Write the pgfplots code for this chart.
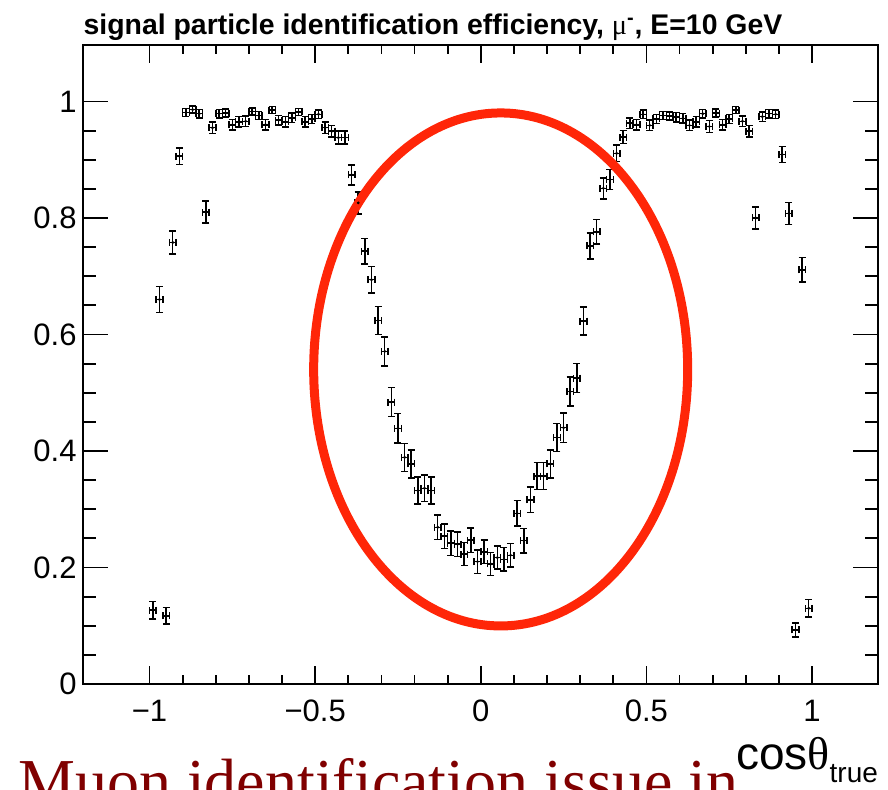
\documentclass[border=0pt]{standalone}
\usepackage{fontspec}
\setmainfont{Liberation Sans}
\newfontfamily\symfont{Liberation Serif}
\usepackage{pgfplots}
\usepackage{pgfplotstable}
\pgfplotsset{compat=1.18}
\definecolor{ringred}{RGB}{255,38,8}
\definecolor{slidered}{RGB}{128,0,0}

% efficiency per cos(theta) bin: centre, value, half bin width, stat. error
\pgfplotstableread{
x y ex ey
-0.99 0.127 0.01 0.015
-0.97 0.660 0.01 0.022
-0.95 0.117 0.01 0.014
-0.93 0.758 0.01 0.020
-0.91 0.906 0.01 0.014
-0.89 0.981 0.01 0.007
-0.87 0.986 0.01 0.006
-0.85 0.979 0.01 0.007
-0.83 0.810 0.01 0.019
-0.81 0.955 0.01 0.010
-0.79 0.979 0.01 0.007
-0.77 0.980 0.01 0.007
-0.75 0.960 0.01 0.009
-0.73 0.965 0.01 0.009
-0.71 0.966 0.01 0.009
-0.69 0.983 0.01 0.006
-0.67 0.976 0.01 0.007
-0.65 0.960 0.01 0.009
-0.63 0.985 0.01 0.006
-0.61 0.968 0.01 0.008
-0.59 0.965 0.01 0.009
-0.57 0.972 0.01 0.008
-0.55 0.982 0.01 0.006
-0.53 0.965 0.01 0.009
-0.51 0.970 0.01 0.008
-0.49 0.978 0.01 0.007
-0.47 0.955 0.01 0.010
-0.45 0.949 0.01 0.010
-0.43 0.938 0.01 0.011
-0.41 0.938 0.01 0.011
-0.39 0.874 0.01 0.017
-0.37 0.826 0.01 0.019
-0.35 0.743 0.01 0.022
-0.33 0.694 0.01 0.023
-0.31 0.624 0.01 0.024
-0.29 0.571 0.01 0.025
-0.27 0.484 0.01 0.025
-0.25 0.439 0.01 0.025
-0.23 0.389 0.01 0.024
-0.21 0.378 0.01 0.024
-0.19 0.332 0.01 0.023
-0.17 0.336 0.01 0.023
-0.15 0.332 0.01 0.023
-0.13 0.269 0.01 0.021
-0.11 0.254 0.01 0.021
-0.09 0.242 0.01 0.021
-0.07 0.240 0.01 0.021
-0.05 0.223 0.01 0.020
-0.03 0.247 0.01 0.021
-0.01 0.210 0.01 0.020
0.01 0.227 0.01 0.020
0.03 0.206 0.01 0.020
0.05 0.217 0.01 0.020
0.07 0.214 0.01 0.020
0.09 0.221 0.01 0.020
0.11 0.293 0.01 0.022
0.13 0.246 0.01 0.021
0.15 0.316 0.01 0.022
0.17 0.357 0.01 0.023
0.19 0.357 0.01 0.023
0.21 0.378 0.01 0.024
0.23 0.423 0.01 0.024
0.25 0.440 0.01 0.025
0.27 0.502 0.01 0.025
0.29 0.525 0.01 0.025
0.31 0.623 0.01 0.024
0.33 0.752 0.01 0.022
0.35 0.776 0.01 0.021
0.37 0.851 0.01 0.018
0.39 0.866 0.01 0.017
0.41 0.911 0.01 0.014
0.43 0.939 0.01 0.011
0.45 0.963 0.01 0.009
0.47 0.960 0.01 0.009
0.49 0.978 0.01 0.007
0.51 0.959 0.01 0.009
0.53 0.970 0.01 0.008
0.55 0.976 0.01 0.007
0.57 0.975 0.01 0.007
0.59 0.973 0.01 0.008
0.61 0.971 0.01 0.008
0.63 0.959 0.01 0.009
0.65 0.965 0.01 0.009
0.67 0.979 0.01 0.007
0.69 0.957 0.01 0.010
0.71 0.980 0.01 0.007
0.73 0.960 0.01 0.009
0.75 0.970 0.01 0.008
0.77 0.985 0.01 0.006
0.79 0.966 0.01 0.009
0.81 0.949 0.01 0.010
0.83 0.800 0.01 0.019
0.85 0.974 0.01 0.008
0.87 0.979 0.01 0.007
0.89 0.978 0.01 0.007
0.91 0.909 0.01 0.014
0.93 0.808 0.01 0.019
0.95 0.093 0.01 0.012
0.97 0.711 0.01 0.021
0.99 0.130 0.01 0.015
}\effdata

\begin{document}
\begin{tikzpicture}
\path[use as bounding box] (-41.65pt,-53pt) rectangle (402.35pt,342pt);
\begin{axis}[
  name=main,
  at={(0,0)}, anchor=south west,
  scale only axis, width=397.5pt, height=319.5pt,
  xmin=-1.2, xmax=1.2, ymin=0, ymax=1.097,
  axis line style={line width=1pt},
  tick align=inside,
  xtick={-1,-0.5,0,0.5,1},
  xticklabels={−1,−0.5,0,0.5,1},
  ytick={0,0.2,0.4,0.6,0.8,1},
  yticklabels={0,0.2,0.4,0.6,0.8,1},
  minor x tick num=4,
  minor y tick num=3,
  x tick style={/pgfplots/major tick length=9pt, /pgfplots/minor tick length=4.5pt},
  y tick style={/pgfplots/major tick length=12.5pt, /pgfplots/minor tick length=6.5pt},
  every tick/.append style={black, line width=0.9pt},
  ticklabel style={font=\fontsize{15.5}{18}\selectfont},
  xticklabel style={anchor=base, yshift=-19pt},
  yticklabel style={anchor=east, inner xsep=0pt, xshift=-3.2pt},
  every axis title shift=0pt,
  title={\bfseries signal particle identification efficiency, {\symfont\mdseries μ}\textsuperscript{-}, E=10 GeV},
  title style={at={(0,1)}, anchor=base west, inner sep=0pt, yshift=5pt,
    font=\fontsize{14.2}{16}\selectfont},
]
\addplot[only marks, mark=*, mark size=0.5pt, black,
  error bars/.cd,
    x dir=both, x explicit,
    y dir=both, y explicit,
    error bar style={line width=0.75pt, black},
    error mark options={rotate=90, line width=0.75pt, mark size=1.75pt, black}]
  table[x=x, y=y, x error=ex, y error=ey] {\effdata};
% highlighted central region
\draw[ringred, line width=4.5pt] (axis cs:0.06,0.540) ellipse [x radius=93.5pt, y radius=128.25pt];
\end{axis}
\node[anchor=base east, inner sep=0pt, font=\fontsize{23}{27}\selectfont]
  at ([yshift=-43pt]main.south east)
  {cos{\symfont θ}\raisebox{-6.5pt}{\fontsize{14}{16}\selectfont true}};
\node[anchor=base west, inner sep=0pt, text=slidered, font=\symfont\fontsize{32}{36}\selectfont]
  at ([xshift=-32.7pt, yshift=-60pt]main.south west)
  {Muon identification issue in};
\end{tikzpicture}
\end{document}
